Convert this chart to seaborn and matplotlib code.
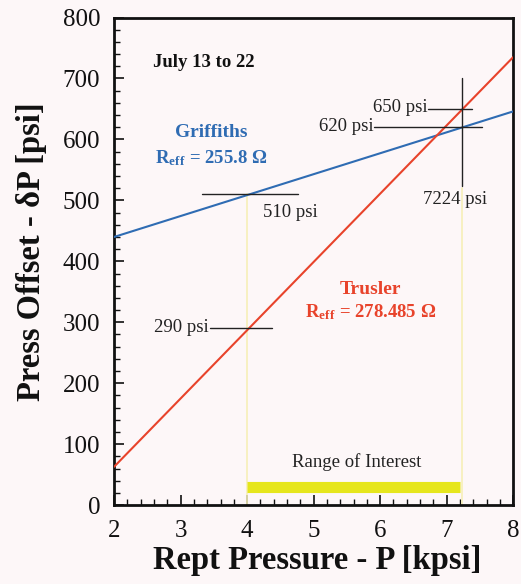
import numpy as np
import pandas as pd
import matplotlib
matplotlib.use("Agg")
import matplotlib.pyplot as plt
import seaborn as sns
from matplotlib.ticker import MultipleLocator

# Data
pressure_kpsi = [2, 8]
griffiths_offset = [440, 646]
trusler_offset = [63, 735]
range_start = 4.0
range_end = 7.224
range_bar_y = 29

sns.set_theme(style="ticks")
plt.rcParams['font.family'] = ['Liberation Serif', 'DejaVu Serif']
plt.rcParams['mathtext.fontset'] = 'stix'

bg = '#fdf7f8'
fig = plt.figure(figsize=(5.21, 5.84), dpi=100, facecolor=bg)
ax = fig.add_axes([0.219, 0.135, 0.766, 0.835])
ax.set_facecolor(bg)

df = pd.DataFrame({
    'P': pressure_kpsi * 2,
    'dP': griffiths_offset + trusler_offset,
    'model': ['Griffiths'] * 2 + ['Trusler'] * 2,
})
blue = '#2f6cb3'
red = '#e8432b'
sns.lineplot(data=df, x='P', y='dP', hue='model',
             palette={'Griffiths': blue, 'Trusler': red},
             linewidth=1.5, legend=False, ax=ax, zorder=3)

# yellow guides
ax.plot([range_start, range_start], [0, 510], color='#f6efb8', lw=1.2, zorder=1)
ax.plot([range_end, range_end], [0, 520], color='#f6efb8', lw=1.2, zorder=1)
ax.plot([range_start, range_end - 0.02], [range_bar_y, range_bar_y],
        color='#e6e61c', lw=8, solid_capstyle='butt', zorder=2)
ax.text(5.65, 70, 'Range of Interest',
        ha='center', va='center', fontsize=13.5, color='#222222')

# crosshair lines
kc = '#222222'
ax.plot([3.32, 4.77], [510, 510], color=kc, lw=1.0, zorder=4)
ax.plot([3.44, 4.38], [290, 290], color=kc, lw=1.0, zorder=4)
ax.plot([6.72, 7.38], [650, 650], color=kc, lw=1.0, zorder=4)
ax.plot([5.90, 7.53], [620, 620], color=kc, lw=1.0, zorder=4)
ax.plot([7.224, 7.224], [524, 700], color=kc, lw=1.0, zorder=4)

fs = 13.5
ax.text(4.24, 480, '510 psi', ha='left', va='center', fontsize=fs, color=kc)
ax.text(3.42, 292, '290 psi', ha='right', va='center', fontsize=fs, color=kc)
ax.text(6.72, 652, '650 psi', ha='right', va='center', fontsize=fs, color=kc)
ax.text(5.90, 622, '620 psi', ha='right', va='center', fontsize=fs, color=kc)
ax.text(7.12, 502, '7224 psi', ha='center', va='center', fontsize=fs, color=kc)

ax.text(2.58, 726, 'July 13 to 22', ha='left', va='center', fontsize=13.5,
        fontweight='bold', color='#111111')

ax.text(3.46, 611, 'Griffiths', ha='center', va='center', fontsize=14,
        fontweight='bold', color=blue)
ax.text(3.46, 570, r'R$_{\mathregular{eff}}$ = 255.8 Ω', ha='center', va='center',
        fontsize=13.5, fontweight='bold', color=blue)
ax.text(5.86, 353, 'Trusler', ha='center', va='center', fontsize=14,
        fontweight='bold', color=red)
ax.text(5.86, 316, r'R$_{\mathregular{eff}}$ = 278.485 Ω', ha='center', va='center',
        fontsize=13.5, fontweight='bold', color=red)

ax.set_xlim(2, 8)
ax.set_ylim(0, 800)
ax.xaxis.set_major_locator(MultipleLocator(1))
ax.xaxis.set_minor_locator(MultipleLocator(0.2))
ax.yaxis.set_major_locator(MultipleLocator(100))
ax.yaxis.set_minor_locator(MultipleLocator(20))
ax.tick_params(axis='both', which='major', direction='in', length=7, width=1.2,
               labelsize=18, colors='#111111')
ax.tick_params(axis='y', which='major', pad=10)
ax.tick_params(axis='x', which='major', pad=11)
ax.tick_params(axis='both', which='minor', direction='in', length=4, width=1.0,
               colors='#111111')
ax.tick_params(top=False, right=False, which='both')
for s in ax.spines.values():
    s.set_visible(True)
    s.set_linewidth(2.0)
    s.set_color('#111111')

ax.set_xlabel('Rept Pressure - P [kpsi]', fontsize=23.5, fontweight='bold',
              color='#111111')
ax.set_ylabel('Press Offset - δP [psi]', fontsize=23.5, fontweight='bold',
              color='#111111')
ax.xaxis.set_label_coords(0.508, -0.082)
ax.yaxis.set_label_coords(-0.168, 0.52)

fig.savefig('out.png', dpi=100, facecolor=bg)
